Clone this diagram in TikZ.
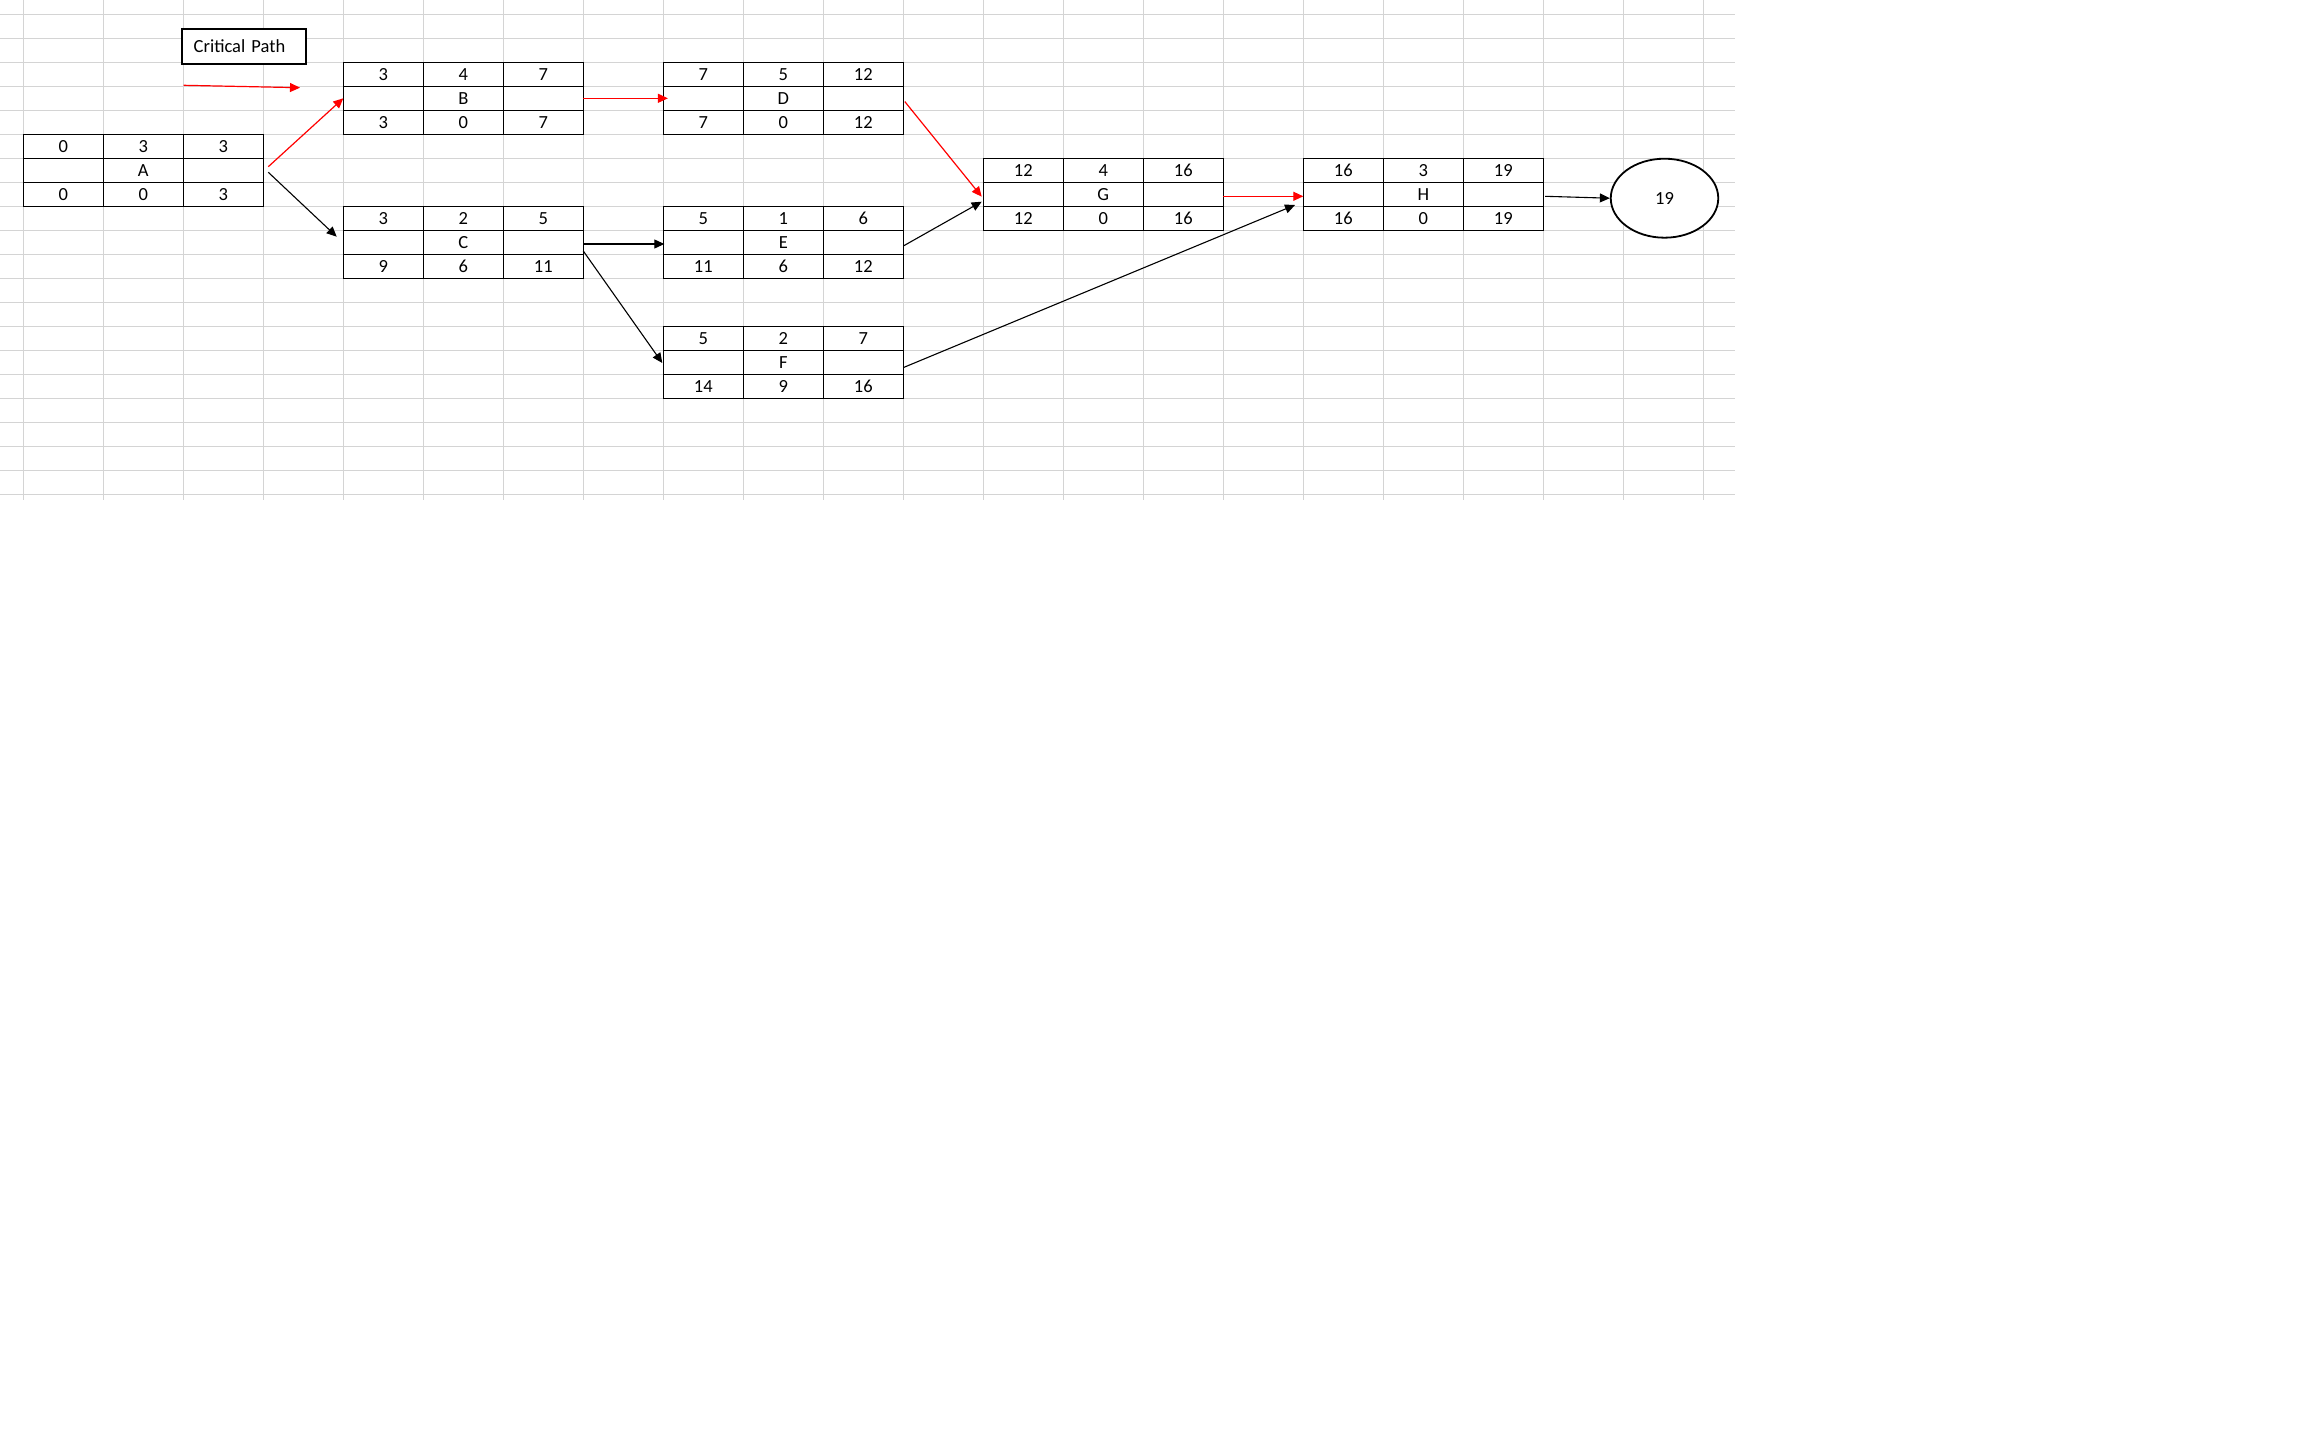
\documentclass[tikz,border=0pt]{standalone}
\usepackage{fontspec}
\setmainfont{Carlito}
\usetikzlibrary{arrows.meta,shapes.geometric,calc}
\definecolor{gridgray}{RGB}{212,212,212}
\definecolor{cpred}{RGB}{255,0,0}
\newcommand{\actbox}[5]{%
  \node[boxframe, anchor=north west] (#1) at (#2,#3) {};
  \draw[boxline] (#1.north west) ++(80,0) -- ++(0,72) ++(80,-72) -- ++(0,72);
  \draw[boxline] (#1.north west) ++(0,24) -- ++(240,0) ++(-240,24) -- ++(240,0);
  \foreach \v [count=\i] in {#4}
    \node[celltext] (#1-1-\i) at ($(#1.north west)+({80*\i-40},12)$) {\v};
  \node[celltext] (#1-2-2) at ($(#1.north west)+(120,36)$) {#1};
  \foreach \v [count=\i] in {#5}
    \node[celltext] (#1-3-\i) at ($(#1.north west)+({80*\i-40},60)$) {\v};
}
\begin{document}
\begin{tikzpicture}[x=1pt,y=-1pt,
  cellfont/.style={font=\fontsize{18.5}{20}\selectfont},
  gridline/.style={draw=gridgray, line width=1.3pt},
  boxframe/.style={draw, line width=1.4pt, minimum width=240pt, minimum height=72pt,
    inner sep=0pt, outer sep=0pt, fill=white},
  boxline/.style={line width=1.4pt},
  celltext/.style={inner sep=0pt, cellfont},
  link/.style={line width=1.1pt, draw=black, -{Triangle[length=10pt,width=9pt]}},
  crit/.style={line width=1.2pt, draw=cpred, color=cpred, -{Triangle[length=10pt,width=9pt]}},
  legendbox/.style={draw, line width=1.8pt, fill=white, minimum height=35pt,
    text width=100pt, align=left, inner xsep=12pt, inner ysep=0pt, outer sep=0pt, cellfont},
  finalnode/.style={draw, ellipse, line width=1.8pt, fill=white, minimum width=107.5pt,
    minimum height=79pt, inner sep=0pt, cellfont}
]
\useasboundingbox (0,0) rectangle (2306,1432);
\fill[white] (0,0) rectangle (2306,1432);
% spreadsheet grid
\foreach \k in {0,...,21} \draw[gridline] ({23.3+80*\k},0) -- ({23.3+80*\k},500);
\foreach \j in {0,...,20} \draw[gridline] (0,{14.3+24*\j}) -- (1735,{14.3+24*\j});

% legend
\node[legendbox, anchor=north west] (legend) at (181.7,29) {Critical Path};
\coordinate (lgA) at (183.7,85.3);
\coordinate (lgB) at (300,87.7);
\draw[crit] (lgA) -- (lgB);

% activity boxes
\actbox{A}{23.3}{134.3}{0,3,3}{0,0,3}
\actbox{B}{343.3}{62.3}{3,4,7}{3,0,7}
\actbox{C}{343.3}{206.3}{3,2,5}{9,6,11}
\actbox{D}{663.3}{62.3}{7,5,12}{7,0,12}
\actbox{E}{663.3}{206.3}{5,1,6}{11,6,12}
\actbox{F}{663.3}{326.3}{5,2,7}{14,9,16}
\actbox{G}{983.3}{158.3}{12,4,16}{12,0,16}
\actbox{H}{1303.3}{158.3}{16,3,19}{16,0,19}

\node[finalnode] (fin) at (1664.5,198.2) {19};

% connectors
\draw[crit] ([xshift=5pt,yshift=3.6pt]A.east) -- (B.west);
\draw[link] ([xshift=5pt,yshift=-2pt]A.east) -- ([xshift=-6.6pt,yshift=5.6pt]C.west);
\draw[crit] (B.east) -- ([xshift=4.6pt]D.west);
\draw[link] ([yshift=-1.7pt]C.east) -- ([xshift=1pt,yshift=-1.7pt]E.west);
\draw[link] ([yshift=-8.7pt]C.east) -- ([xshift=-1pt,yshift=-0.7pt]F.west);
\draw[crit] ([xshift=1.5pt,yshift=-3.3pt]D.east) -- ([xshift=-1.6pt,yshift=-2.4pt]G.west);
\draw[link] ([yshift=-3.7pt]E.east) -- ([xshift=-1.6pt,yshift=-7.4pt]G.west);
\draw[link] ([xshift=0.7pt,yshift=-5pt]F.east) -- ([xshift=-8.3pt,yshift=-10.7pt]H.west);
\draw[crit] ([yshift=-2pt]G.east) -- ([yshift=-2pt]H.west);
\draw[link] ([xshift=1.7pt,yshift=-2pt]H.east) -- (fin.west);
\end{tikzpicture}
\end{document}
